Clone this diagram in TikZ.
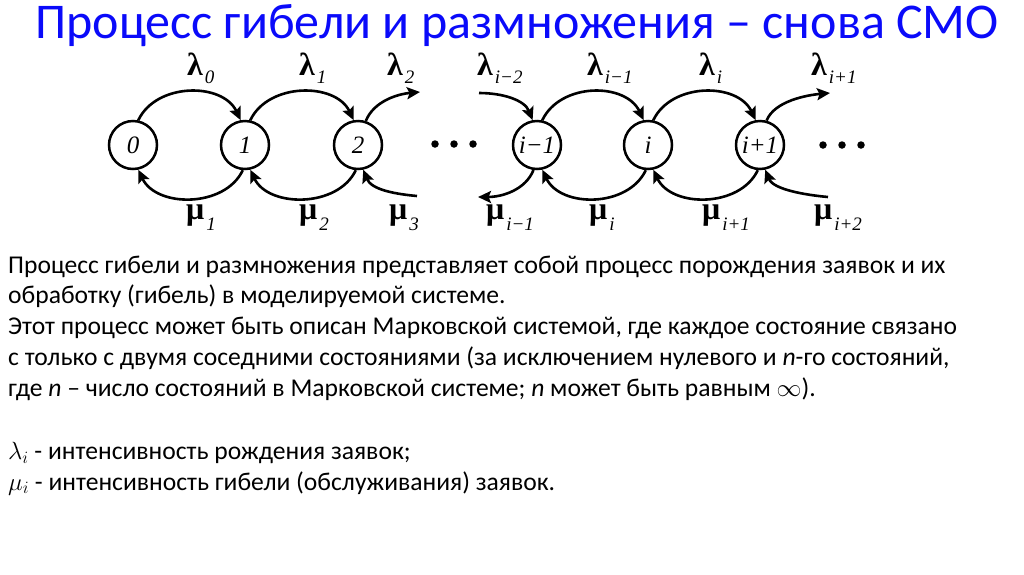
\documentclass[tikz,border=0pt]{standalone}
\usepackage{fontspec}
\setmainfont{Carlito}
\newfontfamily\grk{Liberation Serif}
\usetikzlibrary{arrows.meta}
\definecolor{ttl}{RGB}{10,10,250}
\newcommand\lsub[2][-8pt]{\kern2pt\raisebox{#1}{\fontsize{19}{19}\selectfont\mdseries\itshape #2}}
\begin{document}
\begin{tikzpicture}[x=1pt,y=-1pt,
  st/.style={circle,draw,line width=2.5pt,minimum size=48pt,inner sep=0pt,font=\grk\itshape\fontsize{25}{25}\selectfont},
  ln/.style={line width=2.6pt},
  arr/.style={ln,-{Stealth[length=13pt,width=12pt,inset=2.5pt]}},
  gl/.style={anchor=base west,inner sep=0pt,font=\grk\bfseries\fontsize{32}{32}\selectfont},
  dt/.style={circle,fill,inner sep=0pt,minimum size=7.5pt},
  txt/.style={anchor=base west,inner sep=0pt,align=left,font=\fontsize{25.6}{30.7}\selectfont}]
\path[use as bounding box] (0,0) rectangle (1024,574);
\fill[white] (0,0) rectangle (1024,574);
% title
\node[anchor=base,inner sep=0pt,text=ttl,font=\fontsize{50}{50}\selectfont] (title) at (517,38) {Процесс гибели и размножения – снова СМО};
% states
\node[st] (s0) at (133,145) {0};
\node[st] (s1) at (245,145) {1};
\node[st] (s2) at (358,145) {2};
\node[st] (s3) at (537,145) {i−1};
\node[st] (s4) at (648,145) {i};
\node[st] (s5) at (760,145) {i+1};
% dots
\node[dt] (d1) at (435,144) {};
\node[dt] (d2) at (454,144) {};
\node[dt] (d3) at (473,144) {};
\node[dt] (d4) at (823,145) {};
\node[dt] (d5) at (842,145) {};
\node[dt] (d6) at (861,145) {};
% upper arcs
\draw[arr] (s0.78) .. controls +(18,-38) and +(-18,-38) .. (s1.100);
\draw[arr] (s1.78) .. controls +(18,-38) and +(-18,-38) .. (s2.100);
\draw[arr] (s3.78) .. controls +(18,-38) and +(-18,-38) .. (s4.100);
\draw[arr] (s4.78) .. controls +(18,-38) and +(-18,-38) .. (s5.100);
% lower arcs
\draw[arr] (s1.265) .. controls +(-18,38) and +(18,38) .. (s0.282);
\draw[arr] (s2.265) .. controls +(-18,38) and +(18,38) .. (s1.282);
\draw[arr] (s4.265) .. controls +(-18,38) and +(18,38) .. (s3.282);
\draw[arr] (s5.265) .. controls +(-18,38) and +(18,38) .. (s4.282);
% half arcs
\coordinate (a2) at (420,92);
\draw[arr] (s2.72) .. controls +(8,-20) and +(-22,2) .. (a2);
\coordinate (b2) at (417,196);
\draw[arr] (b2) .. controls +(-22,-2) and +(8,20) .. (s2.282);
\coordinate (a3) at (479,93);
\draw[arr] (a3) .. controls +(24,0) and +(-8,-20) .. (s3.100);
\coordinate (b3) at (478,197);
\draw[arr] (s3.262) .. controls +(-8,20) and +(24,0) .. (b3);
\coordinate (a5) at (830,93);
\draw[arr] (s5.75) .. controls +(8,-20) and +(-22,2) .. (a5);
\coordinate (b5) at (828,197);
\draw[arr] (b5) .. controls +(-22,-2) and +(8,20) .. (s5.282);
% lambda labels
\node[gl] (l0) at (187,75) {λ\lsub{0}};
\node[gl] (l1) at (299,75) {λ\lsub{1}};
\node[gl] (l2) at (387,75) {λ\lsub{2}};
\node[gl] (l3) at (477,75) {λ\lsub{i−2}};
\node[gl] (l4) at (587,75) {λ\lsub{i−1}};
\node[gl] (l5) at (699,75) {λ\lsub{i}};
\node[gl] (l6) at (811,75) {λ\lsub{i+1}};
% mu labels
\node[gl] (m1) at (186,219) {μ\lsub[-11pt]{1}};
\node[gl] (m2) at (299,219) {μ\lsub[-11pt]{2}};
\node[gl] (m3) at (389,219) {μ\lsub[-11pt]{3}};
\node[gl] (m4) at (486,219) {μ\lsub[-11pt]{i−1}};
\node[gl] (m5) at (589,219) {μ\lsub[-11pt]{i}};
\node[gl] (m6) at (702,219) {μ\lsub[-11pt]{i+1}};
\node[gl] (m7) at (814,219) {μ\lsub[-11pt]{i+2}};
% body text
\node[txt] (body) at (8,396) {Процесс гибели и размножения представляет собой процесс порождения заявок и их\\
обработку (гибель) в моделируемой системе.\\
Этот процесс может быть описан Марковской системой, где каждое состояние связано\\
с только с двумя соседними состояниями (за исключением нулевого и \textit{n}-го состояний,\\
где \textit{n} – число состояний в Марковской системе; \textit{n} может быть равным $\infty$).};
\node[txt] (defs) at (8,490) {$\lambda_i$ - интенсивность рождения заявок;\\
$\mu_i$ - интенсивность гибели (обслуживания) заявок.};
\end{tikzpicture}
\end{document}
